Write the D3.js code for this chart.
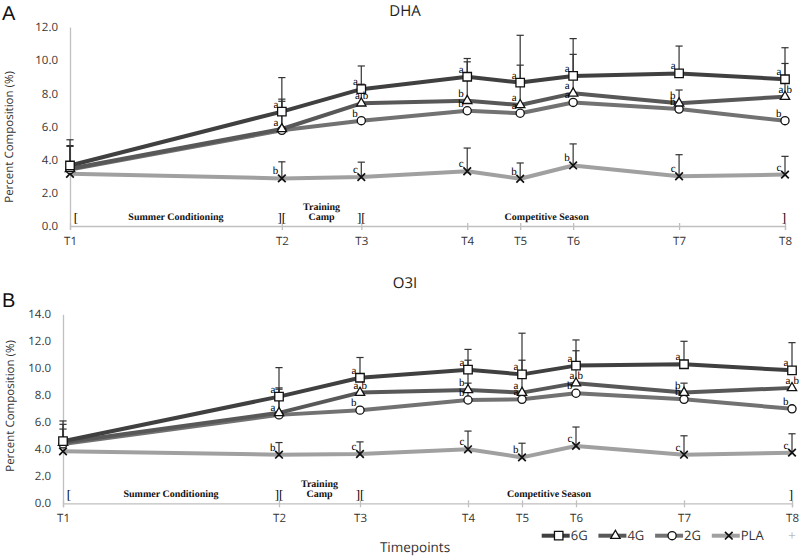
<!DOCTYPE html>
<html><head><meta charset="utf-8">
<script src="https://cdn.jsdelivr.net/npm/d3@7"></script>
<style>body{margin:0;background:#fff} svg{display:block} text{text-rendering:geometricPrecision}</style>
</head><body><svg id="c" width="800" height="559"></svg>
<script>
// ---------- data ----------
const timepoints = ["T1","T2","T3","T4","T5","T6","T7","T8"];
const weeks = [0,8,11,15,17,19,23,27];
const groups = ["6G","4G","2G","PLA"];

// DHA (%)
const dha6G  = [3.65, 6.9, 8.25, 9.0, 8.65, 9.05, 9.2, 8.85];
const dha4G  = [3.45, 5.85, 7.4, 7.55, 7.3, 8.0, 7.4, 7.8];
const dha2G  = [3.4, 5.77, 6.35, 6.95, 6.8, 7.45, 7.05, 6.35];
const dhaPLA = [3.15, 2.87, 2.95, 3.3, 2.85, 3.65, 3.0, 3.1];
const dha6GErr  = [1.55, 2.05, 1.4, 1.1, 2.85, 2.25, 1.65, 1.9];
const dha4GErr  = [1.4, 1.8, 1.15, 2.35, 2.4, 2.35, 0.8, 2.0];
const dha2GErr  = [1.4, 1.75, null, null, null, null, null, null];
const dhaPLAErr = [null, 1.0, 0.9, 1.4, 0.95, 1.3, 1.3, 1.1];
const dha6GSig  = ["","a","a","a","a","a","a","a"];
const dha4GSig  = ["","","ab","b","a","a","b","ab"];
const dha2GSig  = ["","a","b","b","a","a","b","b"];
const dhaPLASig = ["","b","c","c","b","b","c","c"];
const dhaTicks = [0,2,4,6,8,10,12];

// O3I (%)
const o3i6G  = [4.6, 7.9, 9.3, 9.9, 9.55, 10.2, 10.3, 9.85];
const o3i4G  = [4.5, 6.7, 8.2, 8.4, 8.2, 8.9, 8.2, 8.55];
const o3i2G  = [4.4, 6.55, 6.9, 7.65, 7.7, 8.15, 7.7, 7.0];
const o3iPLA = [3.85, 3.6, 3.65, 4.0, 3.4, 4.25, 3.6, 3.75];
const o3i6GErr  = [1.5, 2.15, 1.5, 1.5, 3.05, 1.9, 1.7, 2.05];
const o3i4GErr  = [1.35, 1.85, null, 2.2, 2.4, 2.4, 0.7, null];
const o3i2GErr  = [1.1, 1.9, null, 1.25, null, null, null, null];
const o3iPLAErr = [null, 0.9, 0.9, 1.35, 1.05, 1.4, 1.4, 1.4];
const o3i6GSig  = ["","a","a","a","a","a","a","a"];
const o3i4GSig  = ["","","ab","b","a","ab","b","ab"];
const o3i2GSig  = ["","a","b","b","a","b","b","b"];
const o3iPLASig = ["","b","c","c","b","c","c","c"];
const o3iTicks = [0,2,4,6,8,10,12,14];

const periods = ["Summer Conditioning", "Training", "Camp", "Competitive Season"];
const periodCenters = [4, 9.5, 9.5, 18];

// ---------- styles ----------
const lineColors = {"6G":"#404040","4G":"#585858","2G":"#727272","PLA":"#a0a0a0"};
const markerType = {"6G":"square","4G":"triangle","2G":"circle","PLA":"x"};
const SANS = "'Open Sans', sans-serif";
const SERIF = "'Liberation Serif', 'Times New Roman', serif";

const svg = d3.select("#c");

function markerPath(type) {
  if (type === "square") return d3.symbol(d3.symbolSquare, 72)();
  if (type === "triangle") return d3.symbol(d3.symbolTriangle, 38)();
  if (type === "circle") return d3.symbol(d3.symbolCircle, 52)();
  return "M-3.8,-3.8L3.8,3.8M-3.8,3.8L3.8,-3.8";
}

function drawPanel(p) {
  const g = svg.append("g");
  const x = d3.scaleLinear().domain([0, 27]).range(p.xr);
  const y = d3.scaleLinear().domain([0, p.ymax]).range(p.yr);

  // y axis
  const ya = g.append("g").attr("transform", `translate(${p.xr[0]},0)`)
    .call(d3.axisLeft(y).tickValues(p.yticks).tickFormat(d3.format(".1f")).tickSize(0).tickPadding(12));
  ya.select(".domain").attr("stroke", "#c0c0c0").attr("stroke-width", 1.3);
  ya.selectAll("text").attr("font-family", SANS).attr("font-size", 11.5).attr("fill", "#333");

  // x axis
  const xa = g.append("g").attr("transform", `translate(0,${p.yr[0]})`)
    .call(d3.axisBottom(x).tickValues(weeks).tickFormat((d, i) => timepoints[i]).tickSizeOuter(0).tickSize(4).tickPadding(7));
  xa.select(".domain").attr("stroke", "#c0c0c0").attr("stroke-width", 1.3);
  xa.selectAll(".tick line").attr("stroke", "#c0c0c0").attr("y1", -3).attr("stroke-width", 1.3);
  xa.selectAll("text").attr("font-family", SANS).attr("font-size", 11.5).attr("fill", "#333");

  // title, panel letter, y label
  g.append("text").attr("x", 405).attr("y", p.titleY).attr("text-anchor", "middle")
    .attr("font-family", SANS).attr("font-size", 15).attr("fill", "#222").text(p.title);
  g.append("text").attr("x", 2).attr("y", p.letterY)
    .attr("font-family", "'Liberation Sans', Arial, sans-serif").attr("font-size", 20).attr("fill", "#111").text(p.letter);
  g.append("text").attr("transform", `translate(${p.ylabX},${p.ylabY}) rotate(-90)`)
    .attr("text-anchor", "middle").attr("font-family", SANS).attr("font-size", 11.5).attr("fill", "#333")
    .text("Percent Composition (%)");

  // period annotations
  const ay = p.yr[0] - 5;
  const bracket = (xx, t) => g.append("text").attr("x", xx).attr("y", ay + 1).attr("text-anchor", "middle")
    .attr("font-family", SERIF).attr("font-size", 13).attr("fill", "#000").text(t);
  bracket(x(weeks[0]) + 6, "[");
  bracket(x(weeks[1]), "][");
  bracket(x(weeks[2]), "][");
  bracket(x(weeks[7]) - 1, "]");
  periods.forEach((t, i) => {
    const yy = (t === "Training") ? ay - 11 : ay - 1;
    g.append("text").attr("x", x(periodCenters[i])).attr("y", yy).attr("text-anchor", "middle")
      .attr("font-family", SERIF).attr("font-size", 10).attr("font-weight", "bold").attr("fill", "#111").text(t);
  });

  // lines (PLA first, 6G on top)
  const line = d3.line().x((d, i) => x(weeks[i])).y(d => y(d));
  [...p.series].reverse().forEach(s => {
    g.append("path").attr("d", line(s.vals)).attr("fill", "none")
      .attr("stroke", lineColors[s.name]).attr("stroke-width", 4).attr("stroke-linejoin", "round");
  });

  // error bars (upper)
  p.series.forEach(s => {
    s.errs.forEach((e, i) => {
      if (e == null) return;
      const cx = x(weeks[i]), y0 = y(s.vals[i]), y1 = y(s.vals[i] + e);
      g.append("line").attr("x1", cx).attr("x2", cx).attr("y1", y0).attr("y2", y1)
        .attr("stroke", "#333").attr("stroke-width", 1.2);
      g.append("line").attr("x1", cx - 3.6).attr("x2", cx + 3.6).attr("y1", y1).attr("y2", y1)
        .attr("stroke", "#333").attr("stroke-width", 1.2);
    });
  });

  // markers
  [...p.series].reverse().forEach(s => {
    s.vals.forEach((v, i) => {
      g.append("path").attr("d", markerPath(markerType[s.name]))
        .attr("transform", `translate(${x(weeks[i])},${y(v)})`)
        .attr("fill", markerType[s.name] === "x" ? "none" : "#fff")
        .attr("stroke", "#111").attr("stroke-width", markerType[s.name] === "x" ? 1.7 : 1.3);
    });
  });

  // significance letters
  const sigText = (xx, yy, anchor, t) => g.append("text").attr("x", xx).attr("y", yy).attr("text-anchor", anchor)
    .attr("font-family", SERIF).attr("font-size", 11).attr("fill", "#000").text(t);
  p.series.forEach(s => {
    s.sig.forEach((t, i) => {
      if (!t) return;
      const cx = x(weeks[i]), cy = y(s.vals[i]) - 4;
      if (t.length === 1) {
        sigText(cx - 3.5, cy, "end", t);
      } else {
        sigText(cx - 1.5, cy, "end", t[0]);
        sigText(cx + 1.5, cy, "start", t[1]);
      }
    });
  });
}

drawPanel({
  xr: [70, 785], yr: [226, 27], ymax: 12, yticks: dhaTicks,
  title: "DHA", titleY: 16, letter: "A", letterY: 20, ylabX: 13, ylabY: 137,
  series: [
    {name: "6G", vals: dha6G, errs: dha6GErr, sig: dha6GSig},
    {name: "4G", vals: dha4G, errs: dha4GErr, sig: dha4GSig},
    {name: "2G", vals: dha2G, errs: dha2GErr, sig: dha2GSig},
    {name: "PLA", vals: dhaPLA, errs: dhaPLAErr, sig: dhaPLASig}
  ]
});
drawPanel({
  xr: [63, 792], yr: [503.3, 314.3], ymax: 14, yticks: o3iTicks,
  title: "O3I", titleY: 288, letter: "B", letterY: 307, ylabX: 14, ylabY: 406,
  series: [
    {name: "6G", vals: o3i6G, errs: o3i6GErr, sig: o3i6GSig},
    {name: "4G", vals: o3i4G, errs: o3i4GErr, sig: o3i4GSig},
    {name: "2G", vals: o3i2G, errs: o3i2GErr, sig: o3i2GSig},
    {name: "PLA", vals: o3iPLA, errs: o3iPLAErr, sig: o3iPLASig}
  ]
});

// x title
svg.append("text").attr("x", 415).attr("y", 552).attr("text-anchor", "middle")
  .attr("font-family", SANS).attr("font-size", 13.5).attr("fill", "#333").text("Timepoints");

// legend
const legX = d3.scaleBand().domain(groups).range([541.7, 768.5]);
const legY = 535.7;
groups.forEach(gname => {
  const x0 = legX(gname);
  const lg = svg.append("g").attr("transform", `translate(${x0},${legY})`);
  lg.append("line").attr("x1", 0).attr("x2", 28).attr("y1", 0).attr("y2", 0)
    .attr("stroke", lineColors[gname]).attr("stroke-width", 4);
  lg.append("path").attr("d", markerPath(markerType[gname])).attr("transform", "translate(17,0)")
    .attr("fill", markerType[gname] === "x" ? "none" : "#fff").attr("stroke", "#111")
    .attr("stroke-width", markerType[gname] === "x" ? 1.7 : 1.3);
  lg.append("text").attr("x", 29).attr("y", 4.5).attr("font-family", SANS).attr("font-size", 13)
    .attr("fill", "#333").text(gname);
});
svg.append("text").attr("x", 792).attr("y", legY + 4.5).attr("text-anchor", "middle")
  .attr("font-family", SANS).attr("font-size", 13).attr("fill", "#bbb").text("+");
</script></body></html>
